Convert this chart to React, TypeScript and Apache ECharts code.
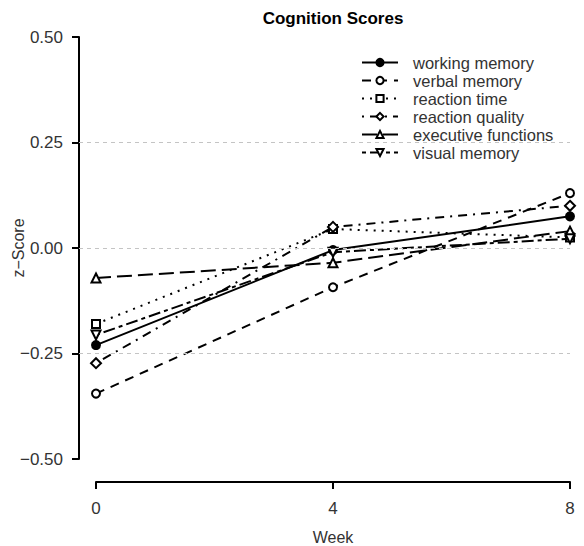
import React, { useEffect, useRef } from "react";
import * as echarts from "echarts";

const weeks = [0, 4, 8];
const seriesNames = [
  "working memory",
  "verbal memory",
  "reaction time",
  "reaction quality",
  "executive functions",
  "visual memory",
];
const workingMemory = [-0.23, -0.005, 0.075];
const verbalMemory = [-0.345, -0.093, 0.13];
const reactionTime = [-0.18, 0.045, 0.025];
const reactionQuality = [-0.273, 0.05, 0.1];
const executiveFunctions = [-0.071, -0.035, 0.04];
const visualMemory = [-0.206, -0.01, 0.022];
const gridValues = [0.25, 0, -0.25];
const yTickFormat = (v: number) => (v < 0 ? "\u2212" + Math.abs(v).toFixed(2) : v.toFixed(2));

const FONT = "Liberation Sans, Arial, sans-serif";

export default function App() {
  const ref = useRef<HTMLDivElement>(null);
  useEffect(() => {
    if (!ref.current) return;
    const chart = echarts.init(ref.current, undefined, { renderer: "svg" });
    const values = [workingMemory, verbalMemory, reactionTime, reactionQuality, executiveFunctions, visualMemory];
    const dashes: any[] = ["solid", [9, 7], [2, 6], [2, 6, 9, 6], [15, 6], [4, 4, 12, 4]];
    const symbols = ["circle", "emptyCircle", "emptyRect", "emptyDiamond", "emptyTriangle", "path://M0,0L10,0L5,9Z"];
    const sizes = [8, 8, 8, 10, 9, 9];
    const series: any[] = values.map((vals, i) => ({
      name: seriesNames[i],
      type: "line",
      xAxisIndex: 0,
      yAxisIndex: 0,
      data: weeks.map((w, j) => [w, vals[j]]),
      symbol: symbols[i],
      symbolSize: sizes[i],
      showAllSymbol: true,
      z: 3,
      lineStyle: { color: "#000", width: 2, type: dashes[i] },
      itemStyle: {
        color: i === 5 ? "#fff" : "#000",
        borderColor: "#000",
        borderWidth: 2,
      },
    }));
    series.push({
      type: "line",
      xAxisIndex: 0,
      yAxisIndex: 0,
      data: [],
      z: 1,
      silent: true,
      markLine: {
        silent: true,
        symbol: "none",
        label: { show: false },
        lineStyle: { color: "#c4c4c4", width: 1, type: [4, 4] },
        data: gridValues.map((v) => ({ yAxis: v })),
      },
    });
    chart.setOption({
      animation: false,
      backgroundColor: "#fff",
      textStyle: { fontFamily: FONT },
      grid: [
        { left: 79, right: 14, top: 37, bottom: 87 },
        { left: 96, right: 14, top: 37, bottom: 87 },
      ],
      xAxis: [
        { gridIndex: 0, type: "value", min: -17 / (474 / 8), max: 8, show: false },
        {
          gridIndex: 1,
          type: "value",
          position: "bottom",
          min: 0,
          max: 8,
          interval: 4,
          offset: 23,
          axisLine: { onZero: false, lineStyle: { color: "#000", width: 2 } },
          axisTick: { length: 7, lineStyle: { color: "#000", width: 2 } },
          axisLabel: { color: "#333", fontSize: 17, margin: 18, fontFamily: FONT },
          splitLine: { show: false },
        },
      ],
      yAxis: [
        {
          gridIndex: 0,
          type: "value",
          position: "left",
          min: -0.5,
          max: 0.5,
          interval: 0.25,
          axisLine: { show: true, onZero: false, lineStyle: { color: "#000", width: 2 } },
          axisTick: { show: true, length: 7, lineStyle: { color: "#000", width: 2 } },
          axisLabel: { color: "#333", fontSize: 17, margin: 16, fontFamily: FONT, formatter: yTickFormat },
          splitLine: { show: false },
        },
        { gridIndex: 1, type: "value", min: -0.5, max: 0.5, show: false },
      ],
      legend: {
        data: seriesNames,
        orient: "vertical",
        left: 361,
        top: 54,
        itemWidth: 36,
        itemHeight: 9,
        itemGap: 1,
        padding: 0,
        textStyle: { color: "#333", fontSize: 16.5, lineHeight: 14, fontFamily: FONT, padding: [0, 0, 0, 10] },
      },
      graphic: [
        {
          type: "text",
          x: 333,
          y: 18,
          style: {
            text: "Cognition Scores",
            font: `bold 17px ${FONT}`,
            fill: "#000",
            textAlign: "center",
            textVerticalAlign: "middle",
          },
        },
        {
          type: "text",
          x: 333,
          y: 537,
          style: {
            text: "Week",
            font: `16px ${FONT}`,
            fill: "#333",
            textAlign: "center",
            textVerticalAlign: "middle",
          },
        },
        {
          type: "text",
          x: 18,
          y: 248,
          rotation: Math.PI / 2,
          style: {
            text: "z\u2212Score",
            font: `16px ${FONT}`,
            fill: "#333",
            textAlign: "center",
            textVerticalAlign: "middle",
          },
        },
      ],
      series,
    });
    return () => chart.dispose();
  }, []);
  return <div ref={ref} style={{ width: 584, height: 546, position: "absolute", left: 0, top: 0 }} />;
}
